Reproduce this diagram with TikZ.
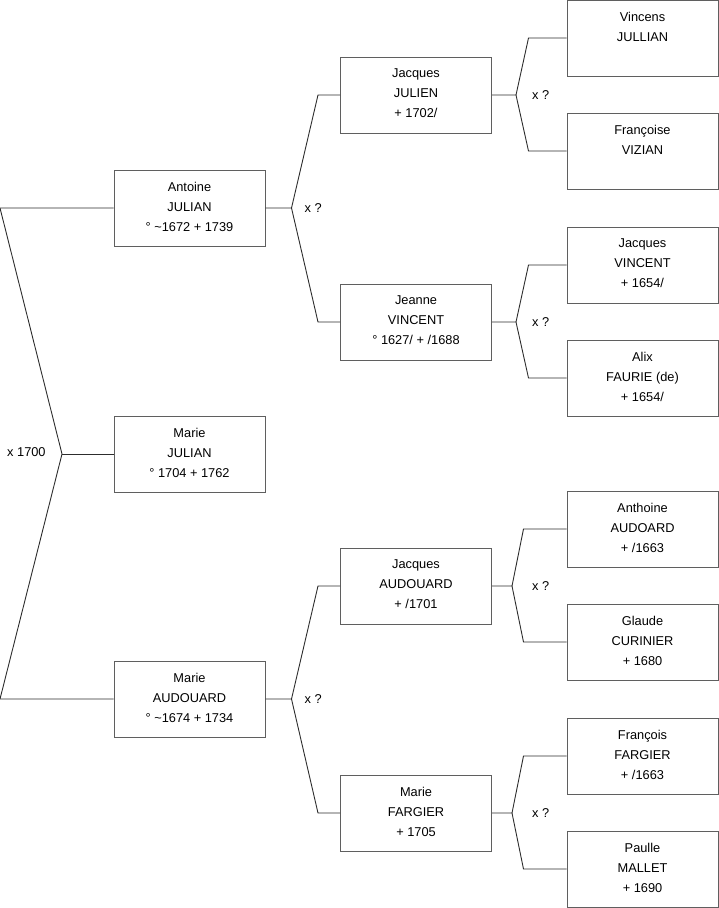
\documentclass[tikz,border=0pt]{standalone}
\usepackage{fontspec}
\setmainfont{Liberation Sans}
\usetikzlibrary{positioning}
\definecolor{boxgray}{RGB}{95,95,95}
\definecolor{linkgray}{RGB}{45,45,45}
\begin{document}
\begin{tikzpicture}[x=1pt, y=1pt, node distance=2cm,
    person/.style={draw=boxgray, rectangle, line width=1pt, minimum width=151pt, minimum height=76pt,
        inner sep=0pt, text depth=3pt, align=center, font=\fontsize{12.8}{20}\selectfont},
    link/.style={draw=linkgray, line width=0.9pt},
    union/.style={anchor=west, inner sep=0pt, font=\fontsize{12.8}{14}\selectfont}]
    \useasboundingbox (0,0) rectangle (719,-908);

    % first generation
    \node (marie) [person] at (189.5,-454) {Marie\\JULIAN\\° 1704 + 1762};
    \node (antoine) [person, above of=marie, node distance=246pt] {Antoine\\JULIAN\\° \textasciitilde1672 + 1739};
    \node (audouard) [person, below of=marie, node distance=245pt] {Marie\\AUDOUARD\\° \textasciitilde1674 + 1734};

    % parents
    \node (jacquesj) [person, right of=antoine, node distance=226.5pt, yshift=113pt] {Jacques\\JULIEN\\+ 1702/};
    \node (jeanne) [person, right of=antoine, node distance=226.5pt, yshift=-114pt] {Jeanne\\VINCENT\\° 1627/ + /1688};
    \node (jacquesa) [person, right of=audouard, node distance=226.5pt, yshift=113pt] {Jacques\\AUDOUARD\\+ /1701};
    \node (fargier) [person, right of=audouard, node distance=226.5pt, yshift=-114pt] {Marie\\FARGIER\\+ 1705};

    % grandparents
    \node (vincens) [person, right of=jacquesj, node distance=226.5pt, yshift=57pt] {Vincens\\JULLIAN\\\mbox{}};
    \node (vizian) [person, right of=jacquesj, node distance=226.5pt, yshift=-56pt] {Françoise\\VIZIAN\\\mbox{}};
    \node (jvincent) [person, right of=jeanne, node distance=226.5pt, yshift=57pt] {Jacques\\VINCENT\\+ 1654/};
    \node (faurie) [person, right of=jeanne, node distance=226.5pt, yshift=-56pt] {Alix\\FAURIE (de)\\+ 1654/};
    \node (anthoine) [person, right of=jacquesa, node distance=226.5pt, yshift=57pt] {Anthoine\\AUDOARD\\+ /1663};
    \node (curinier) [person, right of=jacquesa, node distance=226.5pt, yshift=-56pt] {Glaude\\CURINIER\\+ 1680};
    \node (francois) [person, right of=fargier, node distance=226.5pt, yshift=57pt] {François\\FARGIER\\+ /1663};
    \node (mallet) [person, right of=fargier, node distance=226.5pt, yshift=-56pt] {Paulle\\MALLET\\+ 1690};

    % marriage of the parents
    \coordinate (top0) at (0,-208);
    \coordinate (mid0) at (62,-454);
    \coordinate (bot0) at (0,-699);
    \draw[link] (antoine.west) -- (top0) -- (mid0) -- (bot0) -- (audouard.west);
    \draw[link] (marie.west) -- (mid0);
    \node (wed0) [union] at (7,-452) {x 1700};

    % brackets of the second generation
    \draw[link] (antoine.east) -- ++(26,0) coordinate (ja) -- ([xshift=-22pt]jacquesj.west) -- (jacquesj.west);
    \draw[link] (ja) -- ([xshift=-22pt]jeanne.west) -- (jeanne.west);
    \node (weda) [union, right=13pt of ja] {x ?};
    \draw[link] (audouard.east) -- ++(26,0) coordinate (jb) -- ([xshift=-22pt]jacquesa.west) -- (jacquesa.west);
    \draw[link] (jb) -- ([xshift=-22pt]fargier.west) -- (fargier.west);
    \node (wedb) [union, right=13pt of jb] {x ?};

    % brackets of the third generation
    \draw[link] (jacquesj.east) -- ++(24,0) coordinate (jc) -- ([xshift=-38pt]vincens.west) -- (vincens.west);
    \draw[link] (jc) -- ([xshift=-38pt]vizian.west) -- (vizian.west);
    \node (wedc) [union, right=16pt of jc] {x ?};
    \draw[link] (jeanne.east) -- ++(24,0) coordinate (jd) -- ([xshift=-38pt]jvincent.west) -- (jvincent.west);
    \draw[link] (jd) -- ([xshift=-38pt]faurie.west) -- (faurie.west);
    \node (wedd) [union, right=16pt of jd] {x ?};
    \draw[link] (jacquesa.east) -- ++(20,0) coordinate (je) -- ([xshift=-43pt]anthoine.west) -- (anthoine.west);
    \draw[link] (je) -- ([xshift=-43pt]curinier.west) -- (curinier.west);
    \node (wede) [union, right=20pt of je] {x ?};
    \draw[link] (fargier.east) -- ++(20,0) coordinate (jf) -- ([xshift=-43pt]francois.west) -- (francois.west);
    \draw[link] (jf) -- ([xshift=-43pt]mallet.west) -- (mallet.west);
    \node (wedf) [union, right=20pt of jf] {x ?};
\end{tikzpicture}
\end{document}
